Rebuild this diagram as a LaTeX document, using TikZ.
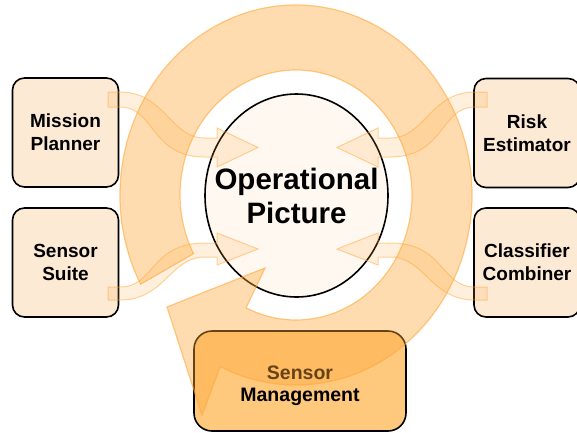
\documentclass[tikz,border=0pt]{standalone}
\usepackage{fontspec}
\setmainfont{Liberation Sans}
\usetikzlibrary{shapes.geometric}
\definecolor{orng}{RGB}{255,168,58}
\definecolor{boxfill}{RGB}{253,234,213}
\definecolor{ellfill}{RGB}{255,248,240}
\definecolor{cylfill}{RGB}{254,200,125}
\tikzset{
  agent/.style={draw=black, line width=1.6pt, fill=boxfill, rounded corners=12pt,
    minimum width=106pt, minimum height=109pt, inner sep=0pt, align=center,
    font=\bfseries\fontsize{19}{23}\selectfont},
  core/.style={ellipse, draw=black, line width=1.6pt, fill=ellfill,
    minimum width=183pt, minimum height=203pt, inner sep=0pt},
  coretext/.style={align=center, inner sep=0pt,
    font=\bfseries\fontsize{29.5}{34}\selectfont},
  mgmt/.style={draw=black, line width=1.6pt, fill=cylfill, rounded corners=18pt,
    minimum width=212pt, minimum height=100pt, inner sep=0pt},
  mgmttext/.style={align=center, inner sep=0pt,
    font=\bfseries\fontsize{19.5}{22}\selectfont},
  band/.style={fill=orng, fill opacity=0.4, draw=orng, draw opacity=0.6, line width=1.2pt},
  sarrow/.style={fill=orng, fill opacity=0.17, draw=orng, draw opacity=0.5, line width=1pt},
}
\begin{document}
\begin{tikzpicture}[x=1pt, y=-1pt]
\useasboundingbox (0,0) rectangle (577,432);
% boxes
\node[agent] (mp) at (65.5,132.5) {Mission\\Planner};
\node[agent] (ss) at (65.5,262.5) {Sensor\\Suite};
\node[agent] (re) at (527,133) {Risk\\Estimator};
\node[agent] (cc) at (527,262.5) {Classifier\\Combiner};
% operational picture
\node[core] (op) at (296.5,195.5) {};
\node[coretext] (optext) at (op.center) {Operational\\Picture};
% sensor management
\node[mgmt] (sm) at (300,381) {};
\node[mgmttext] (smtext) at (300,386) {Sensor\\Management};
% big circular arrow
\path[band] (296,195) ++(152:176 and 190)
  arc[start angle=152, end angle=475.5, x radius=176, y radius=190]
  -- (202,415) -- (167,307) -- (265,268) -- (246.06,307.8)
  arc[start angle=475.5, end angle=152, x radius=116, y radius=125] -- cycle;
% small arrows, left
\path[sarrow] (108,92) -- (120,92) .. controls (165,92) and (170,138) .. (205,138)
  -- (217,138) -- (217,128) -- (258,147.5) -- (217,167) -- (217,157) -- (205,157)
  .. controls (150,157) and (155,107) .. (120,107) -- (108,107) -- cycle;
\path[sarrow] (108,287) -- (120,287) .. controls (155,287) and (150,243) .. (205,243)
  -- (217,243) -- (217,233) -- (258,249) -- (217,265) -- (217,257) -- (205,257)
  .. controls (170,257) and (165,300) .. (120,300) -- (108,300) -- cycle;
% small arrows, right (mirrored)
\begin{scope}[xshift=595pt, xscale=-1]
\path[sarrow] (108,92) -- (120,92) .. controls (165,92) and (170,138) .. (205,138)
  -- (217,138) -- (217,128) -- (258,147.5) -- (217,167) -- (217,157) -- (205,157)
  .. controls (150,157) and (155,107) .. (120,107) -- (108,107) -- cycle;
\path[sarrow] (108,287) -- (120,287) .. controls (155,287) and (150,243) .. (205,243)
  -- (217,243) -- (217,233) -- (258,249) -- (217,265) -- (217,257) -- (205,257)
  .. controls (170,257) and (165,300) .. (120,300) -- (108,300) -- cycle;
\end{scope}
\end{tikzpicture}
\end{document}
